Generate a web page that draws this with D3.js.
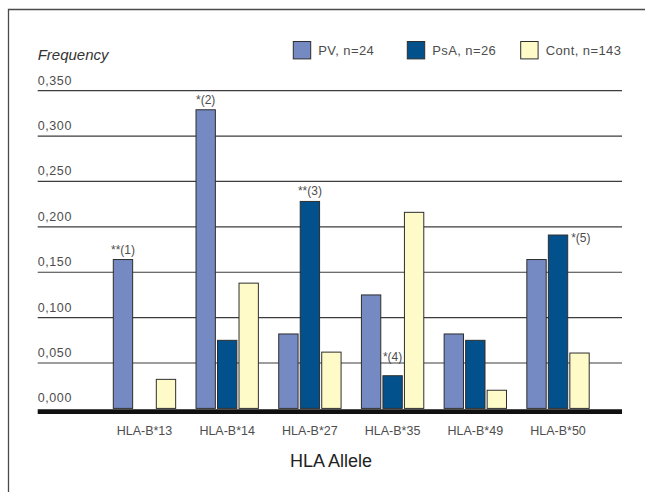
<!DOCTYPE html>
<html>
<head>
<meta charset="utf-8">
<script src="https://cdn.jsdelivr.net/npm/d3@7/dist/d3.min.js"></script>
<style>
  html, body { margin: 0; padding: 0; background: #fff; }
  svg { display: block; }
  text { font-family: "Liberation Sans", Arial, sans-serif; }
</style>
</head>
<body>
<svg id="chart" width="645" height="492"></svg>
<script>
// HLA-B allele frequencies per group
const alleles = ["HLA-B*13", "HLA-B*14", "HLA-B*27", "HLA-B*35", "HLA-B*49", "HLA-B*50"];
const seriesNames = ["PV", "PsA", "Cont"];
const legendLabels = ["PV, n=24", "PsA, n=26", "Cont, n=143"];
const pvValues   = [0.164, 0.329, 0.082, 0.125, 0.082, 0.164];
const psaValues  = [0.000, 0.075, 0.228, 0.036, 0.075, 0.191];
const contValues = [0.032, 0.138, 0.062, 0.216, 0.020, 0.061];
const yTicks = [0, 0.05, 0.10, 0.15, 0.20, 0.25, 0.30, 0.35];
const yTickLabels = ["0,000", "0,050", "0,100", "0,150", "0,200", "0,250", "0,300", "0,350"];
// significance markers: allele, series, label
const markers = [
  ["HLA-B*13", "PV",  "**(1)"],
  ["HLA-B*14", "PV",  "*(2)"],
  ["HLA-B*27", "PsA", "**(3)"],
  ["HLA-B*35", "PsA", "*(4)"],
  ["HLA-B*50", "PsA", "*(5)"]
];

const valuesBySeries = { PV: pvValues, PsA: psaValues, Cont: contValues };
const colors = { PV: "#7589c3", PsA: "#02508c", Cont: "#fffbc8" };

const svg = d3.select("#chart");

// frame (top and left edges)
svg.append("path")
  .attr("d", "M8.5,492 V9.5 H645")
  .attr("fill", "none").attr("stroke", "#4a4a4a").attr("stroke-width", 1.3);

const gridX0 = 37.7, gridX1 = 622;
const y = d3.scaleLinear().domain([0, 0.35]).range([408.4, 90.7]);
const x = d3.scaleBand().domain(alleles).range([113.3, 589.2]).paddingInner(0.246).paddingOuter(0);
const xs = d3.scaleBand().domain(seriesNames).range([0, x.bandwidth()]).paddingInner(0.1).paddingOuter(0);

// horizontal gridlines
svg.append("g").selectAll("line")
  .data(yTicks.filter(t => t > 0))
  .join("line")
  .attr("x1", gridX0).attr("x2", gridX1)
  .attr("y1", d => y(d)).attr("y2", d => y(d))
  .attr("stroke", "#3c3c3c").attr("stroke-width", 1.2);

// tick labels sit above their lines
svg.append("g").selectAll("text")
  .data(yTicks)
  .join("text")
  .attr("x", gridX0)
  .attr("y", (d, i) => y(d) - 6)
  .attr("font-size", 12.5)
  .attr("letter-spacing", 0.6)
  .attr("fill", "#4d4d4d")
  .text((d, i) => yTickLabels[i]);

// bars
const barData = [];
alleles.forEach((a, i) => seriesNames.forEach(s => barData.push({ allele: a, series: s, value: valuesBySeries[s][i] })));

svg.append("g").selectAll("rect")
  .data(barData.filter(d => d.value > 0))
  .join("rect")
  .attr("x", d => x(d.allele) + xs(d.series))
  .attr("y", d => y(d.value))
  .attr("width", xs.bandwidth())
  .attr("height", d => y(0) - y(d.value))
  .attr("fill", d => colors[d.series])
  .attr("stroke", "#2e2e2e").attr("stroke-width", 1);

// thick baseline
svg.append("line")
  .attr("x1", gridX0).attr("x2", gridX1)
  .attr("y1", y(0) + 3.2).attr("y2", y(0) + 3.2)
  .attr("stroke", "#111").attr("stroke-width", 4.6);

// category labels
svg.append("g").selectAll("text")
  .data(alleles)
  .join("text")
  .attr("x", d => x(d) + x.bandwidth() / 2)
  .attr("y", 435)
  .attr("text-anchor", "middle")
  .attr("font-size", 12.5)
  .attr("fill", "#4d4d4d")
  .text(d => d);

// significance markers
const markerPlacement = {
  "*(4)": { dy: -15 },
  "*(5)": { dx: 3.5, dy: 6.5 }
};
svg.append("g").selectAll("text")
  .data(markers)
  .join("text")
  .attr("font-size", 12)
  .attr("fill", "#4d4d4d")
  .each(function (m) {
    const [allele, series, label] = m;
    const v = valuesBySeries[series][alleles.indexOf(allele)];
    const bx = x(allele) + xs(series);
    const p = markerPlacement[label];
    const t = d3.select(this);
    if (p && p.dx !== undefined) {
      t.attr("x", bx + xs.bandwidth() + p.dx).attr("y", y(v) + p.dy).attr("text-anchor", "start");
    } else if (p) {
      t.attr("x", bx).attr("y", y(v) + p.dy).attr("text-anchor", "start");
    } else {
      t.attr("x", bx + xs.bandwidth() / 2).attr("y", y(v) - 6).attr("text-anchor", "middle");
    }
    t.text(label);
  });

// axis titles
svg.append("text")
  .attr("x", 37.7).attr("y", 60)
  .attr("font-size", 15).attr("font-style", "italic")
  .attr("fill", "#333")
  .text("Frequency");

svg.append("text")
  .attr("x", 331).attr("y", 466.5)
  .attr("text-anchor", "middle")
  .attr("font-size", 18)
  .attr("fill", "#222")
  .text("HLA Allele");

// legend
const legendX = [293.3, 407.3, 520.7];
const legend = svg.append("g").selectAll("g")
  .data(seriesNames)
  .join("g")
  .attr("transform", (d, i) => `translate(${legendX[i]},41.5)`);
legend.append("rect")
  .attr("width", 17.4).attr("height", 17.4)
  .attr("fill", d => colors[d])
  .attr("stroke", "#2e2e2e").attr("stroke-width", 1);
legend.append("text")
  .attr("x", 25).attr("y", 13.8)
  .attr("font-size", 13)
  .attr("letter-spacing", 0.4)
  .attr("fill", "#4d4d4d")
  .text((d, i) => legendLabels[i]);
</script>
</body>
</html>
